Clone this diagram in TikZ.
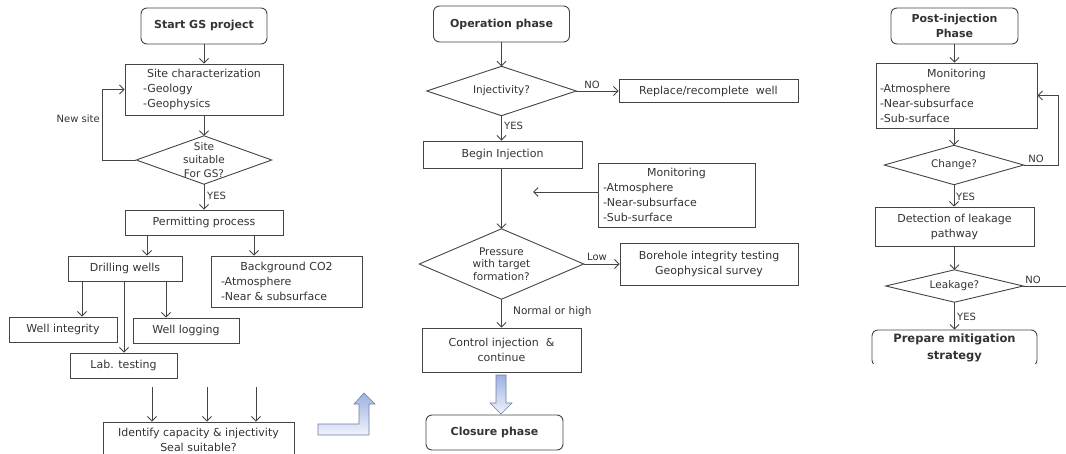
\documentclass[tikz,border=0pt]{standalone}
\usepackage{fontspec}
\setmainfont{DejaVu Sans}
\usetikzlibrary{arrows.meta,calc}
\definecolor{ln}{HTML}{444444}
\definecolor{tx}{HTML}{333333}
\definecolor{bla}{HTML}{9DB1E2}
\definecolor{blb}{HTML}{F0F3FB}
\definecolor{blo}{HTML}{6E7EA4}
\newcommand\lft[2]{\makebox[#1][l]{#2}}
\begin{document}
\begin{tikzpicture}[x=1pt,y=-1pt,
  every node/.style={text=tx, font=\fontsize{11}{15}\selectfont},
  box/.style={draw=ln, line width=0.9pt, inner sep=0pt, align=center},
  rbox/.style={box, rounded corners=6pt, font=\bfseries\fontsize{11}{15}\selectfont},
  dia/.style={inner sep=0pt, align=center, font=\fontsize{10.5}{13.5}\selectfont},
  arr/.style={draw=ln, line width=0.9pt, -{Straight Barb[length=4.5pt,width=9pt]}},
  wire/.style={draw=ln, line width=0.9pt},
  lbl/.style={inner sep=1pt, font=\fontsize{10}{12}\selectfont},
  blk/.style={draw=blo, line width=0.6pt, top color=bla, bottom color=blb}
]
\useasboundingbox (0,0) rectangle (1066,453);
% ---------------- left column
\node[rbox, minimum width=126pt, minimum height=36pt] (start) at (204,26) {Start GS project};
\node[box, minimum width=158pt, minimum height=51pt] (sc) at (204,89.5) {Site characterization\\\lft{122pt}{-Geology}\\\lft{122pt}{-Geophysics}};
\node[dia, minimum width=135pt, minimum height=48pt] (ss) at (204,160) {Site\\suitable\\For GS?};
\draw[wire] (ss.north) -- (ss.east) -- (ss.south) -- (ss.west) -- cycle;
\node[box, minimum width=158pt, minimum height=25pt] (perm) at (204,222.5) {Permitting process};
\node[box, minimum width=114pt, minimum height=25pt] (drill) at (125,268.5) {Drilling wells};
\node[box, minimum width=151pt, minimum height=51pt] (bg) at (286.5,281.5) {Background CO2\\\lft{131pt}{-Atmosphere}\\\lft{131pt}{-Near \& subsurface}};
\node[box, minimum width=108pt, minimum height=25pt] (wi) at (63,329.5) {Well integrity};
\node[box, minimum width=106pt, minimum height=25pt] (wl) at (186,330.5) {Well logging};
\node[box, minimum width=107pt, minimum height=25pt] (lab) at (123.5,365.5) {Lab. testing};
\node[box, minimum width=191pt, minimum height=36pt] (ident) at (198.5,440) {Identify capacity \& injectivity\\Seal suitable?};

\coordinate (ns) at (102,160);
\coordinate (xa) at (147,0);
\coordinate (xb) at (254,0);
\coordinate (xc) at (82,0);
\coordinate (xd) at (124,0);
\coordinate (xe) at (166,0);
\coordinate (f1) at (152,387);
\coordinate (f2) at (207,387);
\coordinate (f3) at (256,387);

\draw[arr] (start.south) -- (sc.north);
\draw[arr] (sc.south) -- (ss.north);
\draw[arr] (ss.south) -- (perm.north);
\draw[arr] (ss.west) -- (ns) |- (sc.west);
\node[lbl, anchor=east] (nsl) at (101,119) {New site};
\node[lbl, anchor=west] (yes1) at (206,196) {YES};
\draw[arr] (perm.south -| xa) -- (drill.north -| xa);
\draw[arr] (perm.south -| xb) -- (bg.north -| xb);
\draw[arr] (drill.south -| xc) -- (wi.north -| xc);
\draw[arr] (drill.south -| xd) -- (lab.north -| xd);
\draw[arr] (drill.south -| xe) -- (wl.north -| xe);
\draw[arr] (f1) -- (ident.north -| f1);
\draw[arr] (f2) -- (ident.north -| f2);
\draw[arr] (f3) -- (ident.north -| f3);

\shade[blk] (318,424) -- (359,424) -- (359,404) -- (354,404) -- (364,393) -- (375,404) -- (369,404) -- (369,435) -- (318,435) -- cycle;

% ---------------- middle column
\node[rbox, minimum width=136pt, minimum height=36pt] (op) at (501.5,24) {Operation phase};
\node[dia, minimum width=149pt, minimum height=49pt] (inj) at (501.5,91) {Injectivity?};
\draw[wire] (inj.north) -- (inj.east) -- (inj.south) -- (inj.west) -- cycle;
\node[box, minimum width=179pt, minimum height=23pt] (rep) at (708.5,91) {Replace/recomplete\ \ well};
\node[box, minimum width=159pt, minimum height=27pt] (bi) at (502.5,154.5) {Begin Injection};
\node[box, minimum width=157pt, minimum height=64pt] (mon) at (676.5,195) {Monitoring\\\lft{147pt}{-Atmosphere}\\\lft{147pt}{-Near-subsurface}\\\lft{147pt}{-Sub-surface}};
\node[dia, minimum width=164pt, minimum height=70pt, font=\fontsize{10.5}{12.5}\selectfont] (pr) at (501.5,264) {Pressure\\with target\\formation?};
\draw[wire] (pr.north) -- (pr.east) -- (pr.south) -- (pr.west) -- cycle;
\node[box, minimum width=178pt, minimum height=42pt] (bh) at (709,264) {Borehole integrity testing\\Geophysical survey};
\node[box, minimum width=159pt, minimum height=44pt] (ctrl) at (501.5,350) {Control injection\ \ \&\\continue};
\node[rbox, minimum width=137pt, minimum height=35pt] (cl) at (494.5,432.5) {Closure phase};

\coordinate (mt) at (533,192);
\draw[arr] (op.south) -- (op.south |- inj.north);
\draw[arr] (inj.east) -- (rep.west);
\node[lbl, anchor=south] (no1) at (592,90) {NO};
\draw[arr] (inj.south) -- (inj.south |- bi.north);
\node[lbl, anchor=west] (yes2) at (503,126) {YES};
\draw[arr] (mon.west |- mt) -- (mt);
\draw[arr] (bi.south -| pr.north) -- (pr.north);
\draw[arr] (pr.east) -- (bh.west);
\node[lbl, anchor=south] (low) at (597,262) {Low};
\draw[arr] (pr.south) -- (pr.south |- ctrl.north);
\node[lbl, anchor=west, font=\fontsize{10.5}{12}\selectfont] (noh) at (512,312) {Normal or high};
\shade[blk] (496,375) -- (506,375) -- (506,403) -- (512,403) -- (501,414) -- (490,403) -- (496,403) -- cycle;

% ---------------- right column
\node[rbox, minimum width=127pt, minimum height=36pt] (post) at (954.5,26) {Post-injection\\Phase};
\node[box, minimum width=161pt, minimum height=65pt] (mon2) at (956.5,95.5) {Monitoring\\\lft{153pt}{-Atmosphere}\\\lft{153pt}{-Near-subsurface}\\\lft{153pt}{-Sub-surface}};
\node[dia, minimum width=139pt, minimum height=39pt] (chg) at (954,165) {Change?};
\draw[wire] (chg.north) -- (chg.east) -- (chg.south) -- (chg.west) -- cycle;
\node[box, minimum width=159pt, minimum height=39pt] (det) at (954.5,226.5) {Detection of leakage\\pathway};
\node[dia, minimum width=137pt, minimum height=32pt] (lk) at (954.5,286) {Leakage?};
\draw[wire] (lk.north) -- (lk.east) -- (lk.south) -- (lk.west) -- cycle;
\begin{scope}
\clip (860,320) rectangle (1050,363.5);
\node[rbox, minimum width=165pt, minimum height=36pt, font=\bfseries\fontsize{11.5}{17}\selectfont] (prep) at (954.5,348) {Prepare mitigation\\strategy};
\end{scope}

\coordinate (lp) at (1058,165);
\coordinate (le) at (1066,286);
\draw[arr] (post.south) -- (post.south |- mon2.north);
\draw[arr] (mon2.south -| chg.north) -- (chg.north);
\draw[arr] (chg.east) -- (lp) |- (mon2.east);
\node[lbl, anchor=south] (no2) at (1036,164) {NO};
\draw[arr] (chg.south) -- (chg.south |- det.north);
\node[lbl, anchor=west] (yes3) at (955,197) {YES};
\draw[arr] (det.south -| lk.north) -- (lk.north);
\draw[wire] (lk.east) -- (le);
\node[lbl, anchor=south] (no3) at (1033,285) {NO};
\draw[arr] (lk.south) -- (lk.south |- prep.north);
\node[lbl, anchor=west] (yes4) at (956,317) {YES};
\end{tikzpicture}
\end{document}
